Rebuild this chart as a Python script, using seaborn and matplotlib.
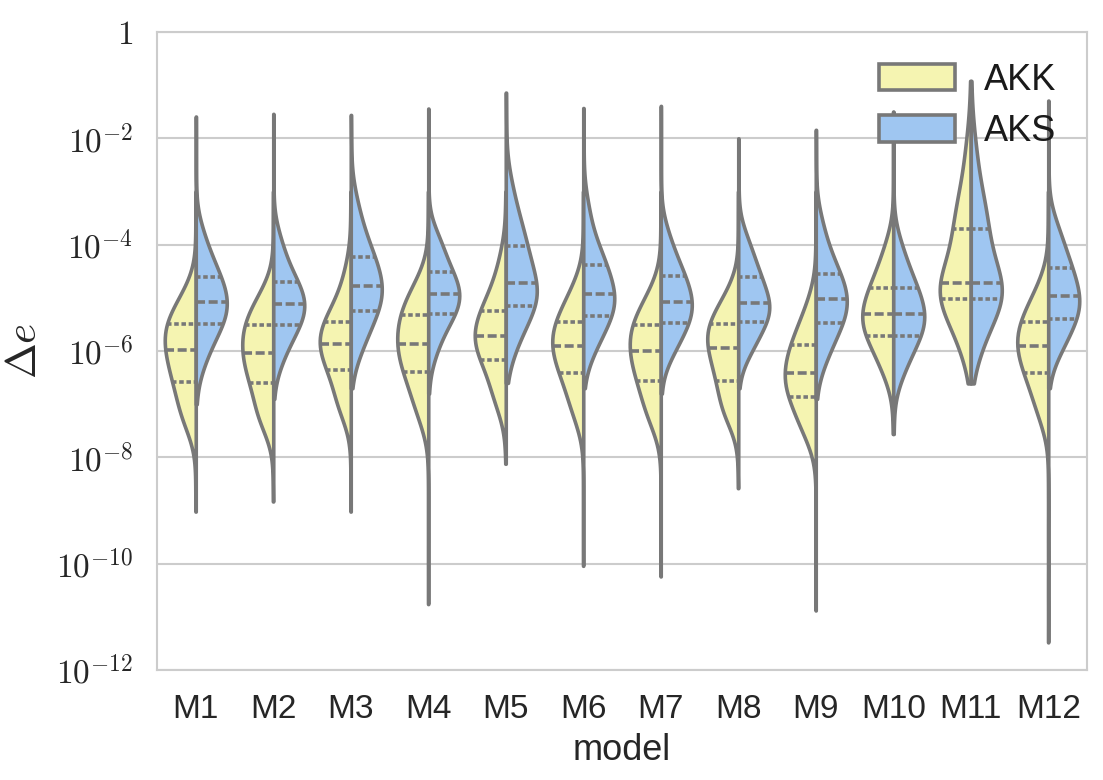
import numpy as np
import pandas as pd
import matplotlib
matplotlib.use("Agg")
import matplotlib.pyplot as plt
import seaborn as sns
from matplotlib.ticker import FixedLocator, NullLocator

# ---- data (log10 of Δe) ----
models = ["M1", "M2", "M3", "M4", "M5", "M6", "M7", "M8", "M9", "M10", "M11", "M12"]
groups = ["AKK", "AKS"]
# quantile levels at which the values below were read
levels = [0.0, 0.01, 0.10, 0.25, 0.50, 0.75, 0.90, 0.99, 1.0]

akk_min = [-9.02, -8.83, -9.02, -10.76, -8.12, -10.04, -10.24, -8.58, -10.88, -7.56, -6.61, -11.48]
akk_p01 = [-7.5, -7.45, -7.25, -7.4, -7.15, -7.4, -7.45, -7.35, -7.7, -6.6, -6.1, -7.4]
akk_p10 = [-7.15, -7.2, -6.95, -6.95, -6.75, -6.95, -7.1, -7.1, -7.35, -6.15, -5.6, -6.95]
akk_q25 = [-6.59, -6.60, -6.36, -6.39, -6.17, -6.41, -6.56, -6.56, -6.87, -5.72, -5.03, -6.41]
akk_q50 = [-5.98, -6.03, -5.87, -5.86, -5.72, -5.90, -6.00, -5.94, -6.42, -5.31, -4.73, -5.90]
akk_q75 = [-5.49, -5.51, -5.45, -5.32, -5.24, -5.45, -5.51, -5.50, -5.89, -4.82, -3.71, -5.45]
akk_p90 = [-5.15, -5.15, -5.0, -4.95, -4.75, -5.05, -5.15, -5.15, -5.45, -4.35, -3.0, -5.05]
akk_p99 = [-4.7, -4.75, -4.3, -4.55, -4.05, -4.6, -4.7, -4.7, -4.9, -3.8, -1.9, -4.6]
akk_max = [-3.0, -3.0, -3.0, -3.0, -3.0, -3.0, -3.0, -3.0, -3.0, -1.5, -0.92, -3.0]

aks_min = [-7.0, -6.9, -6.7, -6.8, -6.6, -6.7, -6.8, -6.7, -6.9, -7.56, -6.61, -6.7]
aks_p01 = [-6.4, -6.35, -6.15, -6.2, -6.1, -6.15, -6.2, -6.15, -6.35, -6.6, -6.1, -6.15]
aks_p10 = [-5.9, -5.9, -5.7, -5.7, -5.6, -5.75, -5.85, -5.85, -5.9, -6.15, -5.6, -5.8]
aks_q25 = [-5.49, -5.51, -5.24, -5.30, -5.15, -5.34, -5.47, -5.45, -5.47, -5.72, -5.03, -5.39]
aks_q50 = [-5.07, -5.12, -4.78, -4.93, -4.73, -4.93, -5.07, -5.10, -5.03, -5.31, -4.73, -4.97]
aks_q75 = [-4.60, -4.71, -4.24, -4.51, -4.02, -4.39, -4.59, -4.60, -4.55, -4.82, -3.71, -4.43]
aks_p90 = [-4.15, -4.25, -3.7, -4.05, -3.45, -3.9, -4.15, -4.15, -4.05, -4.35, -3.0, -3.95]
aks_p99 = [-3.6, -3.7, -3.0, -3.7, -2.7, -3.1, -3.6, -3.7, -3.4, -3.8, -1.9, -3.45]
aks_max = [-1.59, -1.54, -1.56, -1.44, -1.14, -1.43, -1.39, -2.0, -1.84, -1.50, -0.92, -1.29]

yticks_exp = [0, -2, -4, -6, -8, -10, -12]
ytick_labels = [r"$1$"] + [r"$10^{%d}$" % e for e in yticks_exp[1:]]

# expand quantile summaries into observation samples (inverse CDF)
n_obs = 400
probs = np.linspace(0, 1, n_obs)
rows = []
akk_tabs = (akk_min, akk_p01, akk_p10, akk_q25, akk_q50, akk_q75, akk_p90, akk_p99, akk_max)
aks_tabs = (aks_min, aks_p01, aks_p10, aks_q25, aks_q50, aks_q75, aks_p90, aks_p99, aks_max)
for g, tabs in (("AKK", akk_tabs), ("AKS", aks_tabs)):
    for i, m in enumerate(models):
        q = [t[i] for t in tabs]
        vals = np.interp(probs, levels, q)
        for v in vals:
            rows.append((m, g, 10.0 ** v))
df = pd.DataFrame(rows, columns=["model", "group", "de"])

# ---- style ----
sns.set_theme(style="whitegrid")
plt.rcParams["font.family"] = ["Liberation Sans", "DejaVu Sans"]
plt.rcParams["mathtext.fontset"] = "cm"

fig = plt.figure(figsize=(11.03, 7.80), dpi=100)
ax = fig.add_axes([157 / 1103, 1 - 670 / 780, (1087 - 157) / 1103, (670 - 32) / 780])

palette = {"AKK": "#f5f4b1", "AKS": "#9fc6f1"}
sns.violinplot(data=df, x="model", y="de", hue="group", order=models, hue_order=groups,
               split=True, inner="quart", cut=0, palette=palette, saturation=1,
               density_norm="width", bw_adjust=1.6, linecolor="#787878", linewidth=2.6,
               log_scale=True, ax=ax, inner_kws=dict(linewidth=2.6))

ax.set_ylim(1e-12, 1)
ax.yaxis.set_major_locator(FixedLocator([10.0 ** e for e in yticks_exp]))
ax.yaxis.set_minor_locator(NullLocator())
ax.set_yticklabels(ytick_labels)
ax.tick_params(axis="y", labelsize=24, colors="#262626", pad=11)
ax.tick_params(axis="x", labelsize=24, colors="#262626", pad=11)
ax.set_xlabel("model", fontsize=26, color="#262626", labelpad=6)
ax.set_ylabel(r"$\Delta e$", fontsize=31, color="#262626", labelpad=8)
ax.grid(axis="x", visible=False)
ax.grid(axis="y", color="#cccccc", linewidth=1.5)
for s in ax.spines.values():
    s.set_color("#cccccc")
    s.set_linewidth(1.5)

leg = ax.legend(loc="upper right", fontsize=26, frameon=False, handlelength=2.1,
                handleheight=0.75, labelspacing=0.45, borderaxespad=0.45)
for t in leg.get_texts():
    t.set_color("#1a1a1a")

fig.savefig("out.png", dpi=100)
